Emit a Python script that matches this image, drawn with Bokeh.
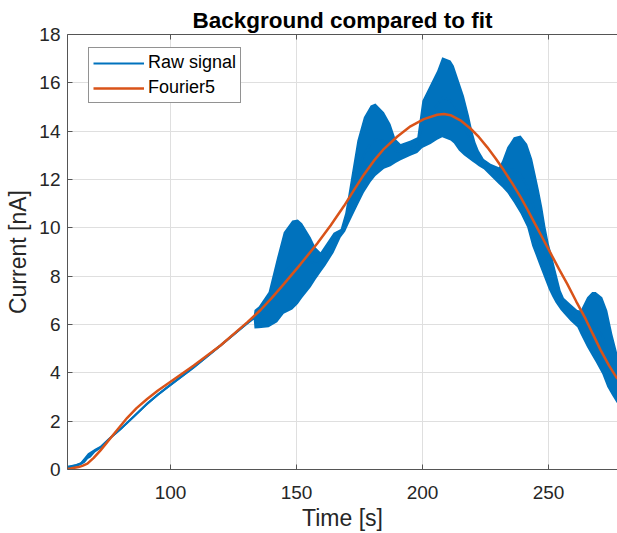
from bokeh.plotting import figure
from bokeh.models import (LinearAxis, FixedTicker, Range1d, Legend, LegendItem,
                          CustomLabelingPolicy)
from bokeh.embed import file_html
from bokeh.resources import INLINE

# ---- data ----
# Raw signal: dense oscillation, given as lower / upper envelope
t_raw = [59.2, 60.3, 62.5, 64.3, 66.0, 67.2, 68.3, 70.0, 72.2, 76.0, 80.2, 85.5, 90.7,
         95.0, 99.7, 109.2, 119.8, 130.4, 133.0,
         133.3, 135.0, 138.9, 142.3, 144.9, 148.3, 150.5, 152.2, 155.6, 157.5, 159.5,
         161.5, 164.7, 167.5, 169.3, 170.6, 174.1, 176.7, 179.4, 181.3, 184.7, 187.3,
         189.3, 191.3, 195.2, 197.9, 199.9, 203.2, 205.8, 207.8, 211.1, 212.4, 214.4,
         216.4, 218.4, 219.7, 221.0, 222.3, 224.3, 227.0, 230.3, 231.6, 233.6, 236.2,
         238.9, 241.5, 243.5, 244.8, 246.2, 247.5, 248.8, 250.1, 251.5, 252.8, 254.8,
         256.1, 258.7, 261.4, 262.7, 265.3, 267.3, 268.7, 271.3, 273.3, 275.3, 277.3]
raw_lo = [0.04, 0.06, 0.11, 0.18, 0.28, 0.43, 0.5, 0.7, 0.86, 1.24, 1.62, 2.14, 2.66,
          3.04, 3.42, 4.17, 5.07, 5.99, 6.2,
          5.83, 5.85, 5.89, 6.09, 6.44, 6.62, 6.85, 7.1, 7.54, 7.85, 8.15,
          8.44, 8.97, 9.6, 9.85, 10.15, 10.9, 11.45, 11.9, 12.15, 12.45, 12.55,
          12.68, 12.8, 12.98, 13.1, 13.3, 13.47, 13.65, 13.75, 13.61, 13.5, 13.2,
          13.0, 12.85, 12.75, 12.65, 12.55, 12.42, 12.15, 11.8, 11.68, 11.45, 11.05,
          10.58, 10.02, 9.25, 8.9, 8.5, 8.15, 7.8, 7.45, 7.15, 6.9, 6.6,
          6.45, 6.15, 5.89, 5.6, 5.06, 4.7, 4.45, 3.95, 3.41, 3.05, 2.72]
raw_hi = [0.16, 0.18, 0.23, 0.3, 0.52, 0.67, 0.74, 0.86, 0.98, 1.36, 1.74, 2.26, 2.78,
          3.16, 3.54, 4.29, 5.19, 6.11, 6.36,
          6.6, 6.75, 7.34, 8.78, 9.82, 10.3, 10.35, 10.19, 9.61, 9.2, 8.99,
          9.3, 9.8, 9.95, 10.6, 11.4, 13.6, 14.58, 15.06, 15.15, 14.78, 14.3,
          13.68, 13.47, 13.61, 13.75, 15.26, 15.95, 16.5, 17.06, 16.92, 16.71, 16.09,
          15.47, 14.65, 14.03, 13.54, 13.2, 12.85, 12.65, 12.51, 12.78, 13.33, 13.75,
          13.82, 13.47, 12.85, 12.23, 11.54, 10.85, 10.02, 9.34, 8.78, 8.23, 7.41,
          7.1, 6.85, 6.6, 6.58, 7.13, 7.34, 7.34, 7.13, 6.58, 5.61, 4.79]

# Fourier5 fit
t_fit = [59.2, 60.3, 63.5, 65.0, 67.0, 69.5, 72.2, 77.5, 82.8, 86.5, 90.7, 95.0,
         99.7, 109.2, 119.8, 130.4, 135.7, 140.0, 145.0, 151.6, 158.2, 163.5, 168.8,
         172.7, 176.7, 180.7, 184.7, 190.0, 195.2, 200.5, 205.8, 208.5, 211.1, 215.0,
         219.1, 222.4, 225.7, 229.0, 232.3, 235.6, 238.9, 241.5, 244.2, 247.5, 250.8,
         254.1, 257.4, 261.0, 264.7, 267.6, 270.6, 274.0, 277.3]
fit_vals = [0.03, 0.04, 0.1, 0.15, 0.24, 0.48, 0.79, 1.47, 2.14, 2.54, 2.92, 3.27,
            3.61, 4.3, 5.13, 6.09, 6.6, 7.08, 7.68, 8.5, 9.35, 10.1, 10.9,
            11.55, 12.2, 12.78, 13.27, 13.78, 14.2, 14.5, 14.68, 14.71, 14.66, 14.45,
            14.1, 13.75, 13.33, 12.87, 12.37, 11.84, 11.27, 10.78, 10.25, 9.6, 8.95,
            8.3, 7.68, 6.95, 6.23, 5.6, 4.95, 4.3, 3.75]

x_ticks = [100, 150, 200, 250]
y_ticks = [0, 2, 4, 6, 8, 10, 12, 14, 16, 18]

raw_mid = [(a + b) / 2 for a, b in zip(raw_lo, raw_hi)]

FONT = "Liberation Sans"
BLUE = "#0072BD"
RED = "#D95319"
AX = "#555555"
TXT = "#262626"

p = figure(width=617, height=533,
           x_range=Range1d(59.1, 277.35), y_range=Range1d(0, 18),
           output_backend="svg", toolbar_location=None,
           min_border_left=67, min_border_right=0,
           min_border_top=34, min_border_bottom=64)
p.outline_line_color = None
p.background_fill_color = "white"

p.title.text = "Background compared to fit"
p.title.align = "center"
p.title.text_font = FONT
p.title.text_font_size = "22.5px"
p.title.text_font_style = "bold"
p.title.text_color = "black"
p.title.standoff = 4

for ax in (p.xaxis[0], p.yaxis[0]):
    ax.axis_line_color = AX
    ax.major_tick_line_color = AX
    ax.major_tick_in = 5
    ax.major_tick_out = 0
    ax.minor_tick_line_color = None
    ax.major_label_text_font = FONT
    ax.major_label_text_font_size = "19px"
    ax.major_label_text_color = TXT
    ax.axis_label_text_font = FONT
    ax.axis_label_text_font_size = "23px"
    ax.axis_label_text_font_style = "normal"
    ax.axis_label_text_color = TXT

p.xaxis[0].ticker = FixedTicker(ticks=x_ticks)
p.yaxis[0].ticker = FixedTicker(ticks=y_ticks)
p.xaxis[0].axis_label = "Time [s]"
p.yaxis[0].axis_label = "Current [nA]"
p.xaxis[0].major_label_standoff = 16
p.xaxis[0].axis_label_standoff = 3
p.yaxis[0].major_label_standoff = 7
p.yaxis[0].axis_label_standoff = 5

hide_all = CustomLabelingPolicy(code="""
const r = indices.clone();
for (let i = 0; i < r.size; i++) { r.unset(i) }
return r
""")
top = LinearAxis(ticker=FixedTicker(ticks=x_ticks), axis_line_color=AX,
                 major_tick_line_color=AX, major_tick_in=5, major_tick_out=0,
                 minor_tick_line_color=None, major_label_text_font_size="0px",
                 major_label_standoff=0, major_label_policy=hide_all)
p.add_layout(top, "above")

p.xgrid.ticker = FixedTicker(ticks=x_ticks)
p.ygrid.ticker = FixedTicker(ticks=y_ticks)
p.xgrid.grid_line_color = "#dfdfdf"
p.ygrid.grid_line_color = "#dfdfdf"

p.varea(x=t_raw, y1=raw_lo, y2=raw_hi, fill_color=BLUE, fill_alpha=1)
raw_line = p.line(t_raw, raw_mid, line_color=BLUE, line_width=2)
fit_line = p.line(t_fit, fit_vals, line_color=RED, line_width=2.5)

legend = Legend(items=[LegendItem(label="Raw signal", renderers=[raw_line]),
                       LegendItem(label="Fourier5", renderers=[fit_line])],
                location=(21, 366))
legend.border_line_color = "#262626"
legend.border_line_width = 1
legend.background_fill_color = "white"
legend.background_fill_alpha = 1
legend.label_text_font = FONT
legend.label_text_font_size = "18px"
legend.label_text_color = "black"
legend.glyph_width = 51
legend.glyph_height = 20
legend.label_height = 20
legend.label_standoff = 4
legend.padding = 4
legend.spacing = 4
legend.margin = 0
p.add_layout(legend)

open("out.html", "w").write(file_html(p, INLINE))
